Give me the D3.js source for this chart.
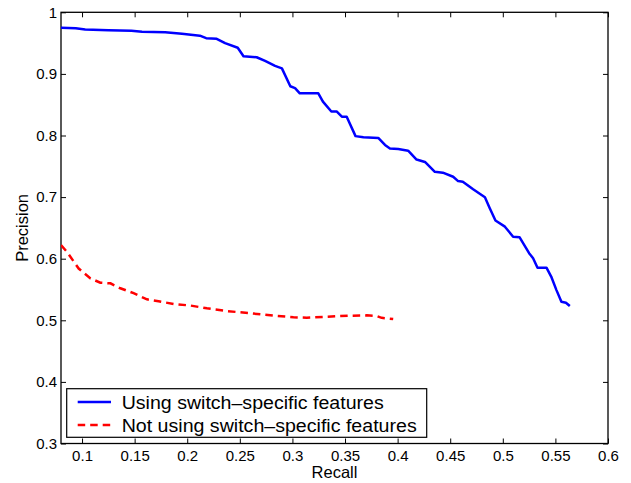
<!DOCTYPE html>
<html>
<head>
<meta charset="utf-8">
<script src="https://cdn.jsdelivr.net/npm/d3@7"></script>
<style>
  html, body { margin: 0; padding: 0; background: #fff; }
  svg { display: block; }
  text { font-family: "Liberation Sans", Arial, Helvetica, sans-serif; fill: #000; }
</style>
</head>
<body>
<svg id="chart" width="631" height="483"></svg>
<script>
// ---- data ----
const usingRecall = [0.08, 0.094, 0.103, 0.125, 0.147, 0.157, 0.179, 0.195, 0.212, 0.218, 0.228, 0.236, 0.248, 0.2535, 0.266, 0.274, 0.2835, 0.290, 0.298, 0.3025, 0.307, 0.3246, 0.329, 0.337, 0.342, 0.347, 0.3516, 0.360, 0.3675, 0.3816, 0.388, 0.3927, 0.4006, 0.410, 0.418, 0.426, 0.4354, 0.443, 0.4528, 0.4575, 0.462, 0.4718, 0.483, 0.4876, 0.493, 0.502, 0.5098, 0.516, 0.525, 0.5288, 0.533, 0.5415, 0.546, 0.551, 0.5557, 0.560, 0.5637];
const usingPrecision = [0.975, 0.974, 0.972, 0.971, 0.970, 0.9685, 0.9675, 0.965, 0.962, 0.958, 0.957, 0.950, 0.9425, 0.9286, 0.927, 0.921, 0.913, 0.909, 0.880, 0.877, 0.8685, 0.8685, 0.855, 0.839, 0.839, 0.8305, 0.8305, 0.799, 0.797, 0.796, 0.7846, 0.779, 0.778, 0.7753, 0.761, 0.757, 0.741, 0.7396, 0.733, 0.726, 0.725, 0.7127, 0.6997, 0.682, 0.662, 0.652, 0.6357, 0.6347, 0.609, 0.6006, 0.5854, 0.5854, 0.571, 0.549, 0.530, 0.5286, 0.5232];
const notUsingRecall = [0.08, 0.0857, 0.0968, 0.108, 0.1174, 0.127, 0.1364, 0.149, 0.1617, 0.1727, 0.187, 0.2028, 0.2187, 0.2377, 0.26, 0.2819, 0.301, 0.3136, 0.3326, 0.3547, 0.3706, 0.38, 0.3848, 0.3958];
const notUsingPrecision = [0.622, 0.611, 0.584, 0.568, 0.561, 0.560, 0.552, 0.544, 0.534, 0.531, 0.5265, 0.524, 0.5195, 0.515, 0.5114, 0.5075, 0.505, 0.5042, 0.5058, 0.5075, 0.508, 0.507, 0.504, 0.502];
const seriesNames = ["Using switch\u2013specific features", "Not using switch\u2013specific features"];
const xDomain = [0.08, 0.6];
const yDomain = [0.3, 1];
const xTicks = [0.1, 0.15, 0.2, 0.25, 0.3, 0.35, 0.4, 0.45, 0.5, 0.55, 0.6];
const xTickLabels = ["0.1", "0.15", "0.2", "0.25", "0.3", "0.35", "0.4", "0.45", "0.5", "0.55", "0.6"];
const yTicks = [0.3, 0.4, 0.5, 0.6, 0.7, 0.8, 0.9, 1];
const yTickLabels = ["0.3", "0.4", "0.5", "0.6", "0.7", "0.8", "0.9", "1"];
const xLabel = "Recall";
const yLabel = "Precision";

// ---- layout ----
const L = 61, R = 608, T = 12.3, B = 443.5;
const svg = d3.select("#chart");
const x = d3.scaleLinear().domain(xDomain).range([L, R]);
const y = d3.scaleLinear().domain(yDomain).range([B, T]);

svg.append("defs").append("clipPath").attr("id", "clip")
  .append("rect").attr("x", L).attr("y", T).attr("width", R - L).attr("height", B - T);

// axes
const tickFont = "15px";
function styleAxis(g) {
  g.attr("font-family", null).attr("font-size", null);
  g.select(".domain").remove();
  g.selectAll(".tick line").attr("stroke", "#000").attr("stroke-width", 1);
  g.selectAll(".tick text").style("font-size", tickFont).attr("fill", "#000");
}
const xMap = new Map(xTicks.map((t, i) => [t, xTickLabels[i]]));
const yMap = new Map(yTicks.map((t, i) => [t, yTickLabels[i]]));

svg.append("g").attr("transform", `translate(0,${B})`)
  .call(d3.axisBottom(x).tickValues(xTicks).tickFormat(d => xMap.get(d)).tickSize(-5).tickSizeOuter(0).tickPadding(6.5))
  .call(styleAxis);
svg.append("g").attr("transform", `translate(0,${T})`)
  .call(d3.axisTop(x).tickValues(xTicks).tickFormat("").tickSize(-5).tickSizeOuter(0))
  .call(styleAxis);
svg.append("g").attr("transform", `translate(${L},0)`)
  .call(d3.axisLeft(y).tickValues(yTicks).tickFormat(d => yMap.get(d)).tickSize(-5).tickSizeOuter(0).tickPadding(4))
  .call(styleAxis);
svg.append("g").attr("transform", `translate(${R},0)`)
  .call(d3.axisRight(y).tickValues(yTicks).tickFormat("").tickSize(-5).tickSizeOuter(0))
  .call(styleAxis);

// frame
svg.append("rect").attr("x", L).attr("y", T).attr("width", R - L).attr("height", B - T)
  .attr("fill", "none").attr("stroke", "#000").attr("stroke-width", 1.3);

// lines
const line = d3.line().x(d => x(d[0])).y(d => y(d[1]));
const usingData = usingRecall.map((r, i) => [r, usingPrecision[i]]);
const notUsingData = notUsingRecall.map((r, i) => [r, notUsingPrecision[i]]);
const plot = svg.append("g").attr("clip-path", "url(#clip)");
plot.append("path").datum(usingData).attr("d", line)
  .attr("fill", "none").attr("stroke", "#0000ff").attr("stroke-width", 2.5).attr("stroke-linejoin", "round");
plot.append("path").datum(notUsingData).attr("d", line)
  .attr("fill", "none").attr("stroke", "#ff0000").attr("stroke-width", 2.5).attr("stroke-dasharray", "7.5,5");

// axis labels
svg.append("text").attr("x", (L + R) / 2).attr("y", 478).attr("text-anchor", "middle")
  .style("font-size", "16.5px").text(xLabel);
svg.append("text").attr("transform", `translate(28,${(T + B) / 2}) rotate(-90)`).attr("text-anchor", "middle")
  .style("font-size", "16.5px").text(yLabel);

// legend
const lg = svg.append("g");
lg.append("rect").attr("x", 66.7).attr("y", 388.7).attr("width", 360).attr("height", 48.6)
  .attr("fill", "#fff").attr("stroke", "#000").attr("stroke-width", 1.2);
const legendRows = [
  { name: seriesNames[0], color: "#0000ff", dash: null, cy: 402, len: 262 },
  { name: seriesNames[1], color: "#ff0000", dash: "7.5,5", cy: 425, len: 295 }
];
legendRows.forEach(r => {
  lg.append("line").attr("x1", 77.7).attr("x2", 111).attr("y1", r.cy).attr("y2", r.cy)
    .attr("stroke", r.color).attr("stroke-width", 2.5).attr("stroke-dasharray", r.dash);
  lg.append("text").attr("x", 121.7).attr("y", r.cy + 7)
    .attr("textLength", r.len).attr("lengthAdjust", "spacingAndGlyphs")
    .style("font-size", "17.5px").text(r.name);
});
</script>
</body>
</html>
